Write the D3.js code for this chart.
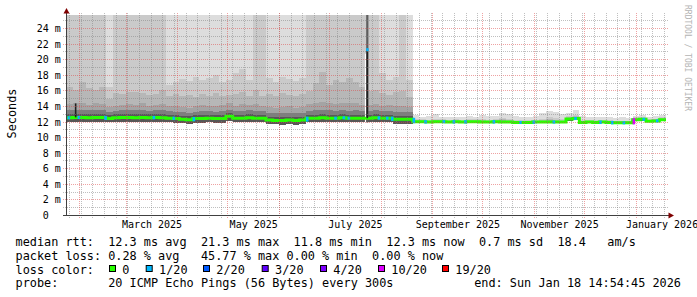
<!DOCTYPE html>
<html>
<head>
<meta charset="utf-8">
<script src="https://cdn.jsdelivr.net/npm/d3@7"></script>
<style>
  html, body { margin: 0; padding: 0; background: #ffffff; }
  svg { display: block; }
  text { font-family: "DejaVu Sans Mono", monospace; fill: #000; }
</style>
</head>
<body>
<div id="chart"></div>
<script>
// graph window (UTC); the smoke is kept in 4 day bins
var startTime = new Date(Date.UTC(2025, 0, 23, 21, 0, 0));
var endTime = new Date(Date.UTC(2026, 0, 18, 21, 0, 0));
var binDays = 4;

// median rtt per bin (ms)
var median = [
  12.55, 12.6, 12.6, 12.55, 12.6, 12.6, 12.45, 12.55, 12.6, 12.6,
  12.55, 12.6, 12.55, 12.6, 12.55, 12.5, 12.45, 12.35, 12.3, 12.45,
  12.45, 12.5, 12.45, 12.45, 12.75, 12.5, 12.5, 12.55, 12.5, 12.5,
  12.25, 12.2, 12.2, 12.25, 12.2, 12.25, 12.5, 12.5, 12.55, 12.5,
  12.5, 12.55, 12.5, 12.5, 12.5, 12.5, 12.55, 12.5, 12.5, 12.35,
  12.35, 12.35, 12.05, 12.05, 12.0, 12.05, 12.05, 12.0, 12.05, 12.0,
  12.05, 12.05, 12.0, 12.0, 12.05, 12.0, 12.0, 11.95, 11.95, 11.95,
  12.0, 12.0, 12.0, 12.0, 12.0, 12.4, 12.45, 11.95, 12.0, 11.95,
  12.0, 11.95, 11.9, 11.9, 11.9, 12.3, 12.35, 12.1, 12.15, 12.3
];

// sorted ping levels per bin (ms); 30 = above the top of the graph
var ping1 = [
  12.0, 12.05, 12.05, 12.0, 12.05, 12.05, 11.95, 12.0, 12.05, 12.05,
  12.0, 12.05, 12.0, 12.05, 12.0, 11.95, 11.9, 11.85, 11.8, 11.9,
  11.9, 11.95, 11.9, 11.9, 12.1, 11.95, 11.95, 12.0, 11.95, 11.95,
  11.7, 11.7, 11.65, 11.7, 11.65, 11.7, 11.95, 11.95, 12.0, 11.95,
  11.95, 12.0, 11.95, 11.95, 11.95, 11.95, 12.0, 11.95, 11.95, 11.8,
  11.8, 11.8, 11.9, 11.9, 11.85, 11.9, 11.9, 11.85, 11.9, 11.85,
  11.9, 11.9, 11.85, 11.85, 11.9, 11.85, 11.85, 11.8, 11.8, 11.8,
  11.85, 11.85, 11.85, 11.85, 11.85, 12.2, 12.25, 11.8, 11.85, 11.8,
  11.85, 11.8, 11.75, 11.75, 11.75, 12.15, 12.2, 11.95, 12.0, 12.15
];
var ping13 = [
  13.0, 13.05, 13.05, 13.0, 13.05, 13.05, 12.9, 13.0, 13.05, 13.05,
  13.0, 13.05, 13.0, 13.05, 13.0, 12.95, 12.9, 12.8, 12.75, 12.9,
  12.9, 12.95, 12.9, 12.9, 13.2, 12.95, 12.95, 13.0, 12.95, 12.95,
  12.7, 12.65, 12.65, 12.7, 12.65, 12.7, 12.95, 12.95, 13.0, 12.95,
  12.95, 13.0, 12.95, 12.95, 12.95, 12.95, 13.0, 12.95, 12.95, 12.8,
  12.8, 12.8, 12.1, 12.1, 12.05, 12.1, 12.1, 12.05, 12.1, 12.05,
  12.1, 12.1, 12.05, 12.05, 12.1, 12.05, 12.05, 12.0, 12.0, 12.0,
  12.05, 12.05, 12.05, 12.05, 12.05, 12.45, 12.5, 12.0, 12.05, 12.0,
  12.05, 12.0, 11.95, 11.95, 11.95, 12.35, 12.4, 12.15, 12.2, 12.35
];
var ping15 = [
  13.5, 13.6, 13.55, 13.5, 13.6, 13.55, 13.35, 13.45, 13.5, 13.55,
  13.5, 13.55, 13.45, 13.5, 13.5, 13.4, 13.35, 13.3, 13.2, 13.35,
  13.4, 13.4, 13.35, 13.4, 13.6, 13.4, 13.45, 13.5, 13.45, 13.4,
  13.2, 13.1, 13.15, 13.2, 13.1, 13.15, 13.45, 13.5, 13.55, 13.5,
  13.45, 13.5, 13.45, 13.5, 13.4, 13.45, 13.5, 13.4, 13.45, 13.3,
  13.3, 13.25, 12.15, 12.15, 12.1, 12.15, 12.15, 12.1, 12.15, 12.1,
  12.15, 12.15, 12.1, 12.1, 12.15, 12.15, 12.1, 12.05, 12.05, 12.05,
  12.1, 12.1, 12.15, 12.1, 12.1, 12.5, 12.55, 12.05, 12.1, 12.05,
  12.1, 12.05, 12.0, 12.0, 12.0, 12.4, 12.45, 12.2, 12.25, 12.4
];
var ping17 = [
  14.3, 14.5, 14.4, 14.2, 14.4, 14.3, 13.9, 14.1, 14.2, 14.3,
  14.2, 14.4, 14.1, 14.2, 14.3, 14.1, 14.0, 13.9, 13.8, 14.0,
  14.2, 14.1, 14.0, 14.2, 14.4, 14.1, 14.3, 14.2, 14.3, 14.1,
  13.9, 13.8, 13.9, 14.0, 13.8, 13.9, 14.3, 14.5, 14.6, 14.4,
  14.3, 14.5, 14.4, 14.5, 14.2, 14.2, 14.3, 14.1, 14.2, 14.0,
  14.1, 13.9, 12.2, 12.2, 12.15, 12.25, 12.2, 12.15, 12.2, 12.15,
  12.2, 12.2, 12.2, 12.15, 12.2, 12.3, 12.2, 12.1, 12.1, 12.1,
  12.15, 12.2, 12.3, 12.2, 12.15, 12.55, 12.65, 12.1, 12.15, 12.1,
  12.15, 12.1, 12.05, 12.05, 12.05, 12.45, 12.5, 12.25, 12.3, 12.45
];
var ping18 = [
  16.5, 16.1, 17.2, 16.4, 16.1, 16.5, 15.0, 15.7, 15.6, 15.9,
  15.9, 15.7, 15.5, 15.6, 16.1, 15.4, 15.6, 15.3, 15.5, 15.2,
  15.6, 15.4, 15.7, 15.3, 15.5, 15.6, 15.9, 15.4, 16.1, 15.4,
  15.6, 15.4, 15.7, 15.5, 15.3, 15.6, 16.0, 17.0, 18.4, 16.8,
  17.4, 17.1, 17.6, 17.2, 16.5, 16.0, 16.1, 15.7, 15.5, 15.8,
  16.0, 15.2, 12.25, 12.25, 12.2, 12.3, 12.25, 12.2, 12.25, 12.2,
  12.25, 12.25, 12.25, 12.2, 12.25, 12.4, 12.3, 12.15, 12.15, 12.15,
  12.2, 12.3, 12.4, 12.3, 12.2, 12.6, 12.75, 12.15, 12.2, 12.15,
  12.2, 12.15, 12.1, 12.1, 12.1, 12.5, 12.55, 12.3, 12.35, 12.5
];
var ping19 = [
  30, 30, 30, 30, 30, 30, 16.5, 30, 30, 30,
  30, 30, 30, 30, 30, 16.8, 17.1, 17.5, 17.3, 17.8,
  17.4, 17.6, 18.0, 17.2, 17.4, 18.3, 18.8, 17.4, 30, 30,
  17.6, 17.2, 17.8, 17.5, 17.3, 17.6, 30, 30, 30, 30,
  30, 30, 30, 30, 30, 30, 30, 18.3, 17.4, 17.8,
  30, 17.4, 12.4, 12.35, 12.3, 12.45, 12.35, 12.3, 12.35, 12.3,
  12.35, 12.35, 12.4, 12.3, 12.35, 12.55, 12.45, 12.25, 12.25, 12.25,
  12.3, 12.45, 12.6, 12.5, 12.35, 12.75, 12.9, 12.25, 12.3, 12.25,
  12.3, 12.25, 12.2, 12.2, 12.2, 12.6, 12.65, 12.4, 12.45, 12.6
];
var ping20 = [
  30, 30, 30, 30, 30, 30, 30, 30, 30, 30,
  30, 30, 30, 30, 30, 30, 30, 30, 30, 30,
  30, 30, 30, 30, 30, 30, 30, 30, 30, 30,
  30, 30, 30, 30, 30, 30, 30, 30, 30, 30,
  30, 30, 30, 30, 30, 30, 30, 30, 30, 30,
  30, 30, 12.9, 12.7, 12.8, 13.0, 12.6, 12.7, 12.6, 12.7,
  12.8, 12.7, 12.9, 12.8, 12.8, 13.1, 13.0, 12.8, 12.6, 12.7,
  12.8, 13.1, 13.4, 13.3, 13.0, 13.2, 13.5, 12.8, 12.7, 12.6,
  12.7, 12.6, 12.5, 12.6, 12.5, 12.8, 12.9, 12.6, 12.8, 12.9
];

// single-day median spikes
var spikeDates = ["2025-01-29", "2025-07-23"];
var spikeMedian = [14.4, 21.3];
var spikeTop = [14.4, 30];
var spikeLoss = [0, 1];

// days with packet loss (lost pings out of 20)
var lossDates = [
  "2025-01-25", "2025-01-31", "2025-02-16", "2025-03-17", "2025-03-29", "2025-04-10",
  "2025-06-17", "2025-07-04", "2025-07-09", "2025-07-12", "2025-07-30", "2025-08-04",
  "2025-08-07", "2025-08-20", "2025-08-27", "2025-09-07", "2025-09-13", "2025-09-20",
  "2025-10-07", "2025-10-23", "2025-10-31", "2025-11-12", "2025-11-25", "2025-12-10",
  "2025-12-17", "2025-12-24", "2025-12-30", "2026-01-05", "2026-01-13"
];
var lossCount = [
  1, 1, 1, 1, 1, 1,
  1, 1, 1, 1, 1, 1,
  1, 1, 1, 1, 1, 1,
  1, 1, 1, 1, 1, 1,
  1, 1, 10, 1, 1
];

var lossLevels = [0, 1, 2, 3, 4, 10, 19];
var lossLabels = ["0", "1/20", "2/20", "3/20", "4/20", "10/20", "19/20"];
var lossColors = ["#26ff00", "#00b8ff", "#0059ff", "#5e00ff", "#7e00ff", "#dd00ff", "#ff0000"];

var yLabelValues = [0, 2, 4, 6, 8, 10, 12, 14, 16, 18, 20, 22, 24];
var yMinorValues = [1, 3, 5, 7, 9, 11, 13, 15, 17, 19, 21, 23, 25];

var medianStats = ["12.3 ms avg", "21.3 ms max", "11.8 ms min", "12.3 ms now", "0.7 ms sd", "18.4", "am/s"];
var lossStats = ["0.28 % avg", "45.77 % max", "0.00 % min", "0.00 % now"];
var probeText = "20 ICMP Echo Pings (56 Bytes) every 300s";
var endText = "end: Sun Jan 18 14:54:45 2026";

var width = 697, height = 297;
var plotLeft = 66, plotRight = 666, plotTop = 15, plotBottom = 215;

var svg = d3.select("#chart").append("svg")
  .attr("width", width)
  .attr("height", height);

var x = d3.scaleUtc().domain([startTime, endTime]).range([plotLeft, plotRight]);
var y = d3.scaleLinear().domain([0, 25.75]).range([215.5, plotTop]);

var parseDay = d3.utcParse("%Y-%m-%d");

function binOf(t) {
  var i = Math.floor((t - startTime) / (binDays * 864e5));
  return Math.max(0, Math.min(median.length - 1, i));
}
function lossColor(n) {
  var c = lossColors[0];
  lossLevels.forEach(function(lv, i) { if (n >= lv) c = lossColors[i]; });
  return c;
}

var bins = d3.range(median.length).map(function(i) {
  return {
    t: d3.utcDay.offset(startTime, i * binDays),
    med: median[i], lo: ping1[i], p13: ping13[i], p15: ping15[i],
    p17: ping17[i], p18: ping18[i], p19: ping19[i], p20: ping20[i]
  };
});
var steps = bins.concat([Object.assign({}, bins[bins.length - 1], { t: endTime })]);

svg.append("clipPath").attr("id", "plotclip")
  .append("rect").attr("x", plotLeft).attr("y", plotTop)
  .attr("width", plotRight - plotLeft).attr("height", plotBottom - plotTop);

var plot = svg.append("g").attr("clip-path", "url(#plotclip)");

// smoke, outer pings first (smokeping grey shades)
var smoke = [
  { key: "p20", color: "#dddddd" },
  { key: "p19", color: "#cacaca" },
  { key: "p18", color: "#b7b7b7" },
  { key: "p17", color: "#a4a4a4" },
  { key: "p15", color: "#7e7e7e" },
  { key: "p13", color: "#585858" }
];
smoke.forEach(function(s) {
  plot.append("path")
    .datum(steps)
    .attr("fill", s.color)
    .attr("shape-rendering", "crispEdges")
    .attr("d", d3.area()
      .curve(d3.curveStepAfter)
      .x(function(d) { return x(d.t); })
      .y0(function(d) { return y(d.lo); })
      .y1(function(d) { return y(d[s.key]); }));
});

// spike columns
spikeDates.forEach(function(ds, i) {
  var t = parseDay(ds);
  var x0 = x(t);
  var b = bins[binOf(t)];
  if (spikeTop[i] > spikeMedian[i]) {
    plot.append("rect")
      .attr("x", x0 - 1.3).attr("width", 1.3)
      .attr("y", y(spikeMedian[i]) + 4).attr("height", y(b.lo) - y(spikeMedian[i]) - 4)
      .attr("fill", "#ffffff");
    plot.append("rect")
      .attr("x", x0).attr("width", 2.2)
      .attr("y", y(spikeTop[i])).attr("height", y(b.lo) - y(spikeTop[i]))
      .attr("fill", "#5e5e5e");
  }
});

// grid
var grid = svg.append("g");
var minorCol = "rgba(128,128,128,0.5)", majorCol = "rgba(222,70,70,0.5)";
function hLine(v, col) {
  var yy = Math.floor(y(v)) + 0.5;
  grid.append("line").attr("x1", 63).attr("x2", 668).attr("y1", yy).attr("y2", yy)
    .attr("stroke", col).attr("stroke-dasharray", "1,1");
}
function vLine(t, col) {
  var xx = Math.floor(x(t)) + 0.5;
  grid.append("line").attr("x1", xx).attr("x2", xx).attr("y1", 13).attr("y2", 218)
    .attr("stroke", col).attr("stroke-dasharray", "1,1");
}
yMinorValues.forEach(function(v) { hLine(v, minorCol); });
yLabelValues.forEach(function(v) { if (v > 0) hLine(v, majorCol); });
d3.utcSunday.range(startTime, endTime).forEach(function(t) { vLine(t, minorCol); });
d3.utcMonth.range(startTime, endTime).forEach(function(t) { vLine(t, majorCol); });

// median line
plot.append("path")
  .datum(steps)
  .attr("fill", "none")
  .attr("stroke", lossColor(0))
  .attr("stroke-width", 3)
  .attr("d", d3.line()
    .curve(d3.curveStepAfter)
    .x(function(d) { return x(d.t); })
    .y(function(d) { return y(d.med); }));

spikeDates.forEach(function(ds, i) {
  var t = parseDay(ds);
  var b = bins[binOf(t)];
  var xx = x(t) + 1.1;
  plot.append("line")
    .attr("x1", xx).attr("x2", xx)
    .attr("y1", y(b.med)).attr("y2", y(spikeMedian[i]))
    .attr("stroke", "#202020").attr("stroke-width", 1.6);
  if (spikeLoss[i] > 0) {
    plot.append("rect")
      .attr("x", x(t)).attr("width", 2.4)
      .attr("y", y(spikeMedian[i]) - 1.5).attr("height", 3)
      .attr("fill", lossColor(spikeLoss[i]));
  }
});

lossDates.forEach(function(ds, i) {
  var t = parseDay(ds);
  var m0 = median[binOf(d3.utcDay.offset(t, -1))];
  var m1 = median[binOf(d3.utcDay.offset(t, 1))];
  var ya = y(Math.max(m0, m1)) - 1.5, yb = y(Math.min(m0, m1)) + 1.5;
  plot.append("rect")
    .attr("x", x(t) - 0.3).attr("width", 2.6)
    .attr("y", ya).attr("height", yb - ya)
    .attr("fill", lossColor(lossCount[i]));
});

// axes
var axisCol = "#404040", arrowCol = "#7f0000";
svg.append("line").attr("x1", 66.5).attr("x2", 66.5).attr("y1", 216).attr("y2", 11)
  .attr("stroke", axisCol);
svg.append("line").attr("x1", 63).attr("x2", 670).attr("y1", 215.5).attr("y2", 215.5)
  .attr("stroke", axisCol);
svg.append("path").attr("d", "M63.5,13.5 L66.5,8 L69.5,13.5 Z").attr("fill", arrowCol);
svg.append("path").attr("d", "M668.5,212.5 L674,215.5 L668.5,218.5 Z").attr("fill", arrowCol);

// y labels
yLabelValues.forEach(function(v) {
  var yy = Math.floor(y(v)) + 0.5;
  svg.append("text").attr("x", 48.7).attr("y", yy + 3.6)
    .attr("text-anchor", "end").style("font-size", "10px").text(v);
  if (v > 0) {
    svg.append("text").attr("x", 54.7).attr("y", yy + 3.6)
      .style("font-size", "10px").text("m");
  }
});

// x labels, centred in the month
d3.utcMonth.every(2).range(d3.utcMonth.floor(startTime), endTime).forEach(function(t) {
  var mid = new Date((+t + +d3.utcMonth.offset(t, 1)) / 2);
  if (mid < startTime) return;
  svg.append("text").attr("x", x(mid)).attr("y", 227.8)
    .attr("text-anchor", "middle").style("font-size", "10px")
    .text(d3.utcFormat("%B %Y")(t));
});

svg.append("text")
  .attr("transform", "translate(15.5,113.5) rotate(-90)")
  .attr("text-anchor", "middle").style("font-size", "11.85px")
  .text("Seconds");

svg.append("text")
  .attr("transform", "translate(685,5) rotate(90)")
  .style("font-size", "8px").style("fill", "#b4b4b4")
  .text("RRDTOOL / TOBI OETIKER");

// legend, laid out on a monospace column grid
var lg = svg.append("g").style("font-size", "11.85px");
var colX0 = 15.5, colW = 7.13;
function col(c) { return colX0 + c * colW; }
function leg(xx, yy, s, anchor) {
  lg.append("text").attr("x", xx).attr("y", yy).attr("text-anchor", anchor || "start").text(s);
}
var row = [246, 259.5, 273.5, 287];
var statCols = [13, 26, 39, 52, 65, 76, 83];
leg(col(0), row[0], "median rtt:");
medianStats.forEach(function(s, i) { leg(col(statCols[i]), row[0], s); });
leg(col(0), row[1], "packet loss:");
var lossCols = [13, 26, 38, 50];
lossStats.forEach(function(s, i) { leg(col(lossCols[i]), row[1], s); });
leg(col(0), row[2], "loss color:");
var boxX = [109, 145.7, 203, 261.7, 320, 378, 442];
lossLabels.forEach(function(s, i) {
  lg.append("rect").attr("x", boxX[i] + 0.5).attr("y", 265.5).attr("width", 6).attr("height", 6)
    .attr("fill", lossColors[i]).attr("stroke", "#000");
  leg(boxX[i] + 13.3, row[2], s);
});
leg(col(0), row[3], "probe:");
leg(col(13), row[3], probeText);
leg(681, row[3], endText, "end");
</script>
</body>
</html>
